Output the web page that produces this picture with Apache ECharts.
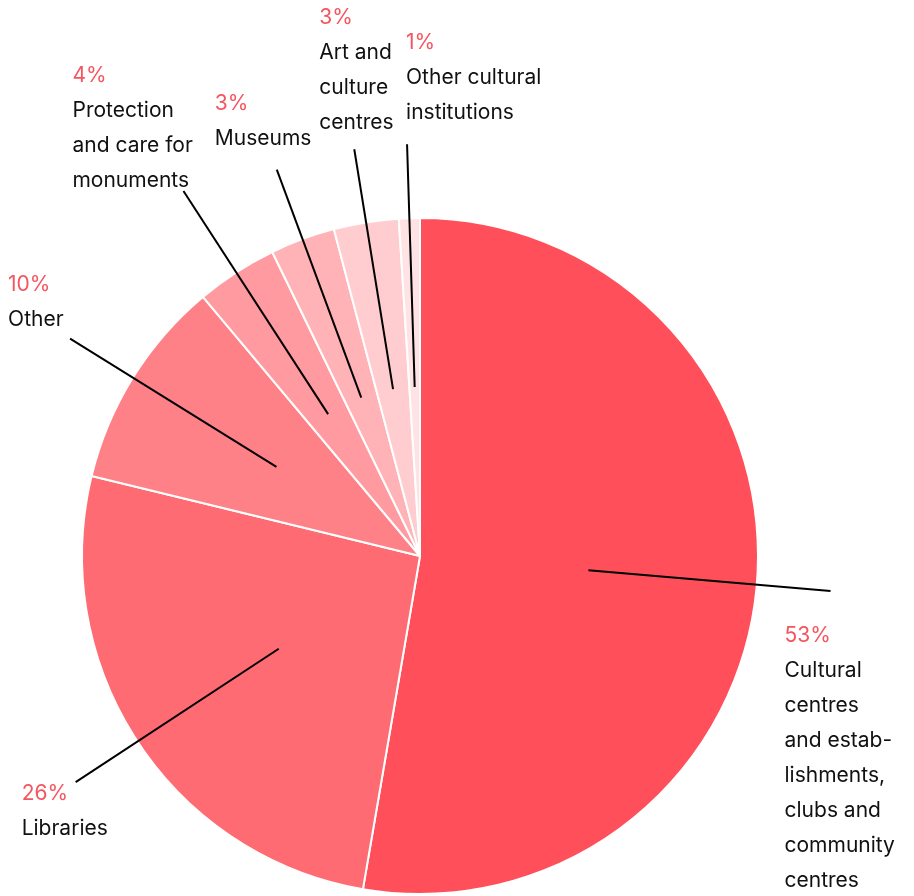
<!DOCTYPE html>
<html>
<head>
<meta charset="utf-8">
<script src="https://cdn.jsdelivr.net/npm/echarts@6/dist/echarts.min.js"></script>
<style>
  html, body { margin: 0; padding: 0; background: #fff; }
  #chart { width: 914px; height: 896px; }
</style>
</head>
<body>
<div id="chart"></div>
<script>
const categories = [
    'Cultural\ncentres\nand estab-\nlishments,\nclubs and\ncommunity\ncentres',
    'Libraries',
    'Other',
    'Protection\nand care for\nmonuments',
    'Museums',
    'Art and\nculture\ncentres',
    'Other cultural\ninstitutions'
];
const values = [52.7, 26.1, 10.1, 3.9, 3.1, 3.1, 1.0];

const colors = ['#ff4f5a', '#ff6b72', '#ff8188', '#ff9ba0', '#ffb3b6', '#ffcdcf', '#ffe3e4'];
// label offset from the end of its pointer line (left/top of the text block)
const labelOffsets = [[-46, 27], [-54, -6], [-62, -71], [-111, -133], [-62, -84], [-35, -149], [-1, -119]];
const lineLengths = [243, 243, 243, 266, 243, 243, 243];

const center = [420, 556];
const radius = 338;

const chart = echarts.init(document.getElementById('chart'));

const pieData = categories.map((name, i) => ({
    name: name,
    value: values[i],
    itemStyle: { color: colors[i] }
}));

const labelData = categories.map((name, i) => ({
    name: name,
    value: values[i],
    labelLine: { length: lineLengths[i] }
}));

chart.setOption({
    animation: false,
    series: [
        {
            type: 'pie',
            z: 1,
            center: center,
            radius: radius,
            startAngle: 90,
            clockwise: true,
            silent: true,
            itemStyle: { borderColor: '#fff', borderWidth: 2 },
            label: { show: false },
            labelLine: { show: false },
            data: pieData
        },
        {
            type: 'pie',
            z: 5,
            center: center,
            radius: radius / 2,
            startAngle: 90,
            clockwise: true,
            silent: true,
            avoidLabelOverlap: false,
            itemStyle: { color: 'rgba(0,0,0,0)' },
            label: {
                show: true,
                position: 'outside',
                width: 220,
                overflow: 'none',
                fontFamily: 'Inter',
                fontSize: 21,
                lineHeight: 35,
                color: '#111',
                formatter: p => '{p|' + Math.round(p.value) + '%}\n{t|' + p.name + '}',
                rich: {
                    p: { color: '#f4555e', fontFamily: 'Inter', fontSize: 21, lineHeight: 35 },
                    t: { color: '#111', fontFamily: 'Inter', fontSize: 21, lineHeight: 35 }
                }
            },
            labelLine: {
                show: true,
                length: 243,
                length2: 0,
                smooth: false,
                lineStyle: { color: '#000', width: 2 }
            },
            labelLayout: function (params) {
                const pts = params.labelLinePoints;
                const end = pts[pts.length - 1];
                const off = labelOffsets[params.dataIndex];
                return {
                    x: end[0] + off[0],
                    y: end[1] + off[1],
                    align: 'left',
                    verticalAlign: 'top',
                    labelLinePoints: pts
                };
            },
            data: labelData
        }
    ]
});
</script>
</body>
</html>
